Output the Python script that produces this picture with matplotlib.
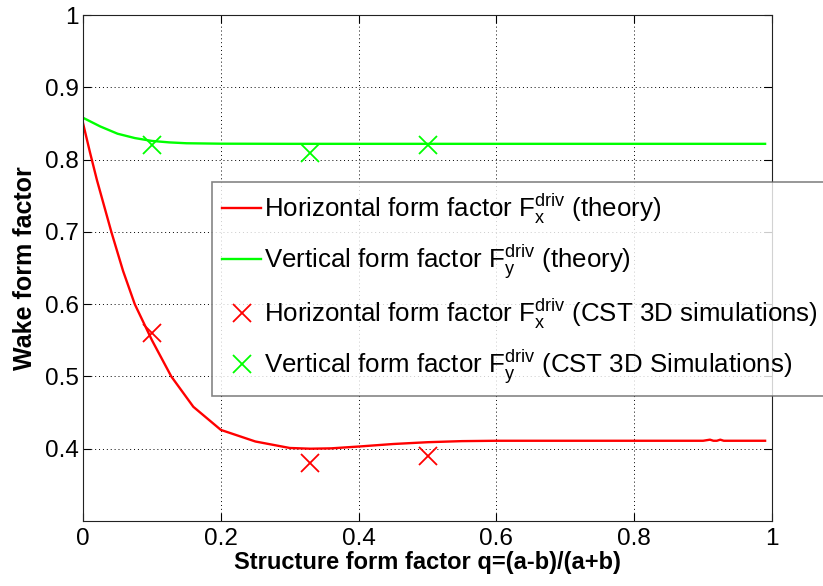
import matplotlib
matplotlib.use('Agg')
import matplotlib.pyplot as plt
import numpy as np

plt.rcParams['font.family'] = ['Liberation Sans', 'DejaVu Sans']
plt.rcParams['mathtext.default'] = 'regular'

# theory curves
q_theory = [0.0, 0.01, 0.02, 0.041, 0.058, 0.075, 0.1, 0.128, 0.16, 0.2, 0.25, 0.3, 0.33,
            0.36, 0.4, 0.45, 0.5, 0.55, 0.6, 0.7, 0.8, 0.9, 0.91, 0.915, 0.92, 0.925, 0.93, 0.99]
fx_theory = [0.85, 0.81, 0.772, 0.70, 0.646, 0.600, 0.55, 0.50, 0.458, 0.426, 0.41, 0.401, 0.400,
             0.4005, 0.403, 0.4065, 0.409, 0.4105, 0.411, 0.411, 0.411, 0.411, 0.4125, 0.411, 0.411,
             0.4125, 0.411, 0.411]
q_theory_y = [0.0, 0.025, 0.05, 0.075, 0.1, 0.125, 0.15, 0.2, 0.3, 0.5, 0.7, 0.9, 0.99]
fy_theory = [0.858, 0.846, 0.836, 0.830, 0.826, 0.824, 0.8228, 0.8222, 0.822, 0.822, 0.822, 0.822, 0.822]

# CST simulation points
q_sim = [0.1, 0.33, 0.5]
fx_sim = [0.56, 0.38, 0.39]
fy_sim = [0.82, 0.81, 0.82]

fig = plt.figure(figsize=(8.23, 5.86), dpi=100)
ax = fig.add_axes([0.101, 0.111, 0.837, 0.863])

ax.plot(q_theory, fx_theory, color='#ff0000', lw=1.7,
        label=r'Horizontal form factor F$_x^{driv}$ (theory)')
ax.plot(q_theory_y, fy_theory, color='#00ff00', lw=1.7,
        label=r'Vertical form factor F$_y^{driv}$ (theory)')
ax.plot(q_sim, fx_sim, 'x', color='#ff0000', ms=13, mew=1.3, ls='none',
        label=r'Horizontal form factor F$_x^{driv}$ (CST 3D simulations)')
ax.plot(q_sim, fy_sim, 'x', color='#00ff00', ms=13, mew=1.3, ls='none',
        label=r'Vertical form factor F$_y^{driv}$ (CST 3D Simulations)')

ax.set_xlim(0, 1)
ax.set_ylim(0.3, 1)
ax.set_xticks([0, 0.2, 0.4, 0.6, 0.8, 1])
ax.set_xticklabels(['0', '0.2', '0.4', '0.6', '0.8', '1'])
ax.set_yticks([0.4, 0.5, 0.6, 0.7, 0.8, 0.9, 1])
ax.set_yticklabels(['0.4', '0.5', '0.6', '0.7', '0.8', '0.9', '1'])
ax.grid(True, ls=(0, (1, 3)), color='black', lw=0.7)
ax.tick_params(direction='in', length=6, labelsize=17.5, top=True, right=True)
ax.tick_params(axis='x', pad=5)
ax.tick_params(axis='y', pad=3)
for s in ax.spines.values():
    s.set_color('#222222')

ax.set_xlabel('Structure form factor q=(a-b)/(a+b)', fontsize=17, fontweight='bold', labelpad=1)
ax.set_ylabel('Wake form factor', fontsize=18, fontweight='bold', labelpad=6)

leg = ax.legend(loc='upper left', bbox_to_anchor=(212 / 823, 1 - 182 / 586),
                bbox_transform=fig.transFigure, fontsize=18.6, frameon=True, fancybox=False,
                edgecolor='#666666', handlelength=1.5, handletextpad=0.12,
                labelspacing=0.62, borderpad=0.4, borderaxespad=0)
leg.get_frame().set_linewidth(1.2)

fig.savefig('out.png', dpi=100)
